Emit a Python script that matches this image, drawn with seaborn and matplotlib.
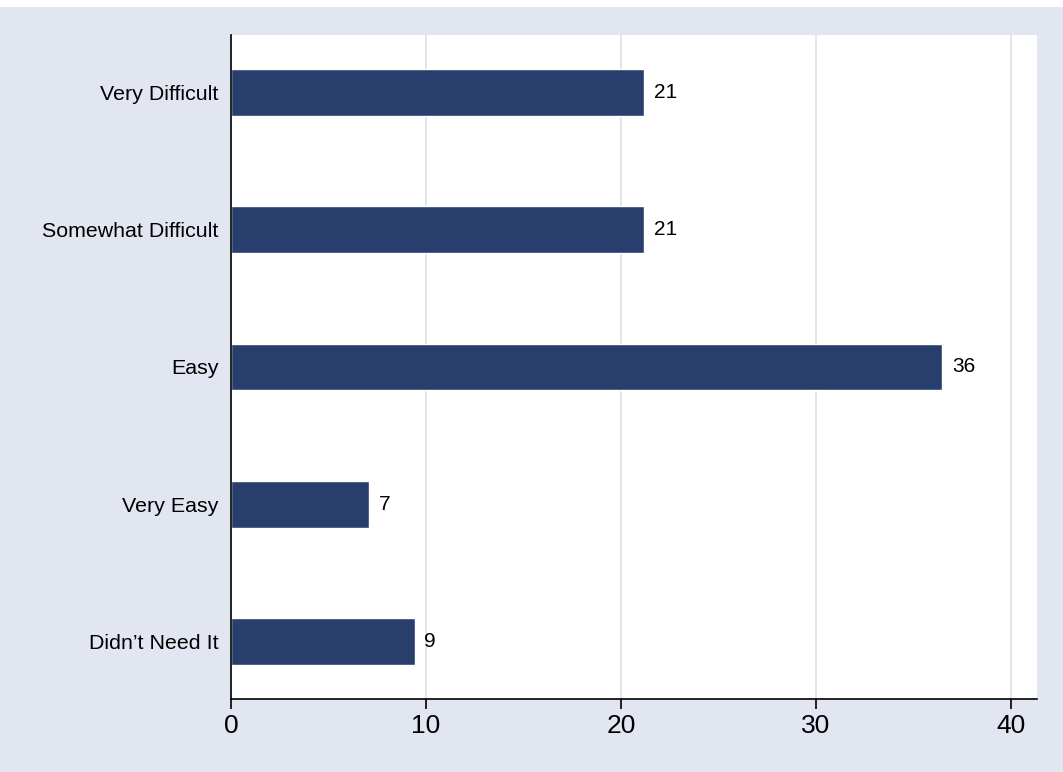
import matplotlib
matplotlib.use("Agg")
import matplotlib.pyplot as plt
import seaborn as sns
import pandas as pd

# data (percent of respondents)
categories = ["Very Difficult", "Somewhat Difficult", "Easy", "Very Easy", "Didn\u2019t Need It"]
percents = [21.18, 21.18, 36.47, 7.06, 9.41]
x_ticks = [0, 10, 20, 30, 40]

df = pd.DataFrame({"category": categories, "percent": percents})

sns.set_style("white", {"xtick.bottom": True})
plt.rcParams["font.family"] = ["Liberation Sans", "DejaVu Sans"]

bg = "#E2E6F1"
fig = plt.figure(figsize=(10.63, 7.72), dpi=100, facecolor=bg)

# thin white strip along the top edge
strip = fig.add_axes([0, 1 - 7 / 772, 1, 7 / 772])
strip.set_facecolor("white")
strip.set_xticks([])
strip.set_yticks([])
for s in strip.spines.values():
    s.set_visible(False)

ax = fig.add_axes([231 / 1063, 1 - 699 / 772, (1037 - 231) / 1063, (699 - 35) / 772])

sns.barplot(data=df, x="percent", y="category", order=categories, orient="h",
            color="#283F6D", saturation=1, width=0.34, ax=ax, zorder=3)
ax.set_xlim(0, 41.33)
ax.set_ylim(4.42, -0.42)
ax.set_xticks(x_ticks)
ax.tick_params(axis="x", length=7.5, width=1.2, color="black")
ax.tick_params(axis="x", pad=3.5, labelsize=19, labelcolor="black")
ax.tick_params(axis="y", length=0, pad=9, labelsize=15.4, labelcolor="black")

for cont in ax.containers:
    ax.bar_label(cont, fmt="%.0f", padding=7, fontsize=15, color="black")

ax.set_xlabel("")
ax.set_ylabel("")
ax.xaxis.grid(True, color="#DCDFEC", linewidth=1.2)

for side in ["top", "right"]:
    ax.spines[side].set_visible(False)
for side in ["left", "bottom"]:
    ax.spines[side].set_color("black")
    ax.spines[side].set_linewidth(1.2)
    ax.spines[side].set_zorder(4)

plt.savefig("out.png", dpi=100, facecolor=fig.get_facecolor())
plt.close()
